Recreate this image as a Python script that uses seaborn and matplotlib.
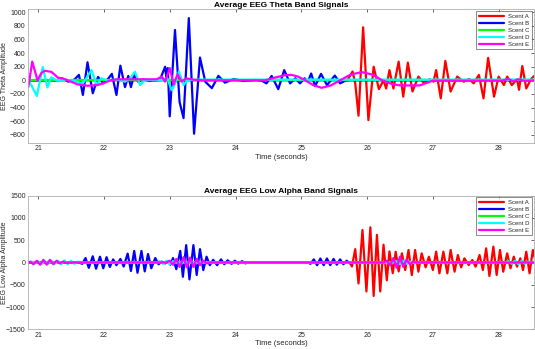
import numpy as np
import pandas as pd
import matplotlib
matplotlib.use("Agg")
import matplotlib.pyplot as plt
import seaborn as sns

scents = ["Scent A", "Scent B", "Scent C", "Scent D", "Scent E"]
colors = ["#ff0000", "#0000ff", "#00ff00", "#00ffff", "#ff00ff"]
x_ticks = [21, 22, 23, 24, 25, 26, 27, 28]
theta_yticks = [-800, -600, -400, -200, 0, 200, 400, 600, 800, 1000]
alpha_yticks = [-1500, -1000, -500, 0, 500, 1000, 1500]

# ---------------- Theta band (extrema) ----------------
tA_theta = [20.85, 25.70, 25.78, 25.82, 25.87, 25.94, 26.02, 26.10, 26.18, 26.25,
            26.29, 26.34, 26.40, 26.48, 26.55, 26.62, 26.69, 26.78, 26.86, 26.95,
            27.01, 27.05, 27.12, 27.19, 27.27, 27.37, 27.47, 27.55, 27.62, 27.70,
            27.77, 27.84, 27.93, 28.00, 28.08, 28.13, 28.20, 28.28, 28.31, 28.36,
            28.42, 28.49, 28.54]
vA_theta = [0, 0, 130, -45, -520, 780, -585, 200, -130, 0,
            -120, 150, -120, 275, -240, 260, -165, 55, -35, 15,
            -20, 150, -265, 285, -165, 55, -20, 20, -45, 80,
            -265, 330, -240, 55, -70, 55, -70, 15, -140, 210,
            -120, 15, 65]

tB_theta = [20.85, 21.28, 21.36, 21.46, 21.55, 21.62, 21.68, 21.75, 21.83, 21.91,
            21.99, 22.07, 22.12, 22.19, 22.25, 22.32, 22.37, 22.41, 22.46, 22.52,
            22.60, 22.70, 22.85, 22.93, 22.95, 22.97, 23.00, 23.08, 23.15, 23.21,
            23.29, 23.37, 23.46, 23.54, 23.64, 23.74, 23.84, 23.97, 24.12, 24.30,
            24.40, 24.47, 24.55, 24.65, 24.74, 24.83, 24.91, 24.98, 25.05, 25.10,
            25.15, 25.21, 25.30, 25.39, 25.51, 25.59, 25.67, 25.75, 28.55]
vB_theta = [0, 0, 30, -20, 10, 80, -215, 265, -190, 50,
            -45, 30, 95, -215, 215, -100, 65, -100, 80, -20,
            15, -10, 5, 200, 20, 180, -530, 740, -320, -555,
            915, -785, 335, -20, -115, 65, -35, 20, -10, 5,
            -5, -45, 65, -130, 150, -45, 30, -45, 30, -20,
            100, -85, 95, -70, 70, -45, -5, 0, 0]

tC_theta = [20.85, 22.00, 23.20, 24.50, 26.00, 27.50, 28.55]
vC_theta = [0, 0, 0, 0, 0, 0, 0]

tD_theta = [20.85, 20.90, 20.98, 21.07, 21.14, 21.20, 21.28, 21.40, 21.55, 21.68,
            21.81, 21.89, 21.96, 22.05, 22.20, 22.32, 22.40, 22.47, 22.55, 22.63,
            22.75, 22.90, 22.96, 23.03, 23.09, 23.14, 23.21, 23.27, 23.40, 28.55]
vD_theta = [0, -80, -230, 195, -105, 45, 0, 10, -10, -45,
            150, -70, 30, 0, 10, -20, 30, 125, -70, 10,
            0, 10, 40, -145, -30, 130, -70, 0, 10, 10]

tE_theta = [20.85, 20.91, 20.99, 21.05, 21.10, 21.20, 21.30, 21.38, 21.45, 21.60,
            21.75, 21.90, 22.00, 22.10, 22.20, 22.80, 22.88, 22.93, 23.00, 23.06,
            23.12, 23.18, 23.25, 23.35, 23.50, 24.45, 24.60, 24.75, 24.85, 24.95,
            25.06, 25.18, 25.31, 25.45, 25.59, 25.75, 25.92, 26.08, 26.23, 26.38,
            26.50, 26.80, 26.90, 27.00, 27.20, 28.05, 28.15, 28.22, 28.30, 28.40,
            28.55]
vE_theta = [-100, 275, 0, 110, 140, 125, 40, 25, 0, -60,
            -80, -70, -40, 0, 15, 15, 55, -20, 180, -60,
            90, -20, 30, 10, 0, 0, 40, 75, 80, 55,
            0, -70, -110, -75, 0, 85, 120, 85, 0, -55,
            -75, -75, -40, -5, -5, -5, 20, -15, 15, -10,
            0]

# ---------------- Low alpha band (extrema) ----------------
tA_alpha = [20.85, 25.74, 25.77, 25.82, 25.87, 25.93, 25.99, 26.05, 26.10, 26.15,
            26.20, 26.25, 26.30, 26.34, 26.39, 26.435, 26.48, 26.53, 26.58, 26.63,
            26.68, 26.73, 26.78, 26.83, 26.89, 26.94, 27.00, 27.05, 27.10, 27.16,
            27.22, 27.27, 27.33, 27.38, 27.43, 27.48, 27.545, 27.60, 27.65, 27.71,
            27.76, 27.81, 27.86, 27.92, 27.97, 28.02, 28.07, 28.13, 28.18, 28.23,
            28.28, 28.33, 28.37, 28.42, 28.47, 28.52, 28.55]
vA_alpha = [0, 0, -90, 300, -470, 730, -650, 790, -750, 620,
            -650, 400, -400, 250, -240, 240, -200, 206, -169, 281,
            -281, 281, -206, 206, -109, 131, -169, 243, -243, 243,
            -243, 281, -206, 168, -109, 94, -56, 56, -94, 168,
            -169, 318, -303, 356, -281, 281, -206, 206, -131, 131,
            -94, 94, -169, 243, -243, 281, 100]

tB_alpha = [20.85, 21.62, 21.67, 21.72, 21.77, 21.83, 21.88, 21.94, 21.99, 22.04,
            22.09, 22.14, 22.19, 22.25, 22.30, 22.36, 22.41, 22.46, 22.51, 22.57,
            22.62, 22.67, 22.72, 22.78, 22.83, 22.88, 22.93, 22.98, 23.01, 23.05,
            23.10, 23.16, 23.20, 23.25, 23.30, 23.36, 23.41, 23.46, 23.51, 23.56,
            23.61, 23.66, 23.72, 23.78, 23.83, 23.88, 23.94, 23.99, 24.04, 24.10,
            24.15, 24.20, 24.25, 25.10, 25.14, 25.19, 25.24, 25.29, 25.34, 25.39,
            25.44, 25.49, 25.54, 25.59, 25.64, 25.69, 25.74, 25.78, 28.55]
vB_alpha = [0, 0, -30, 100, -120, 140, -140, 130, -130, 120,
            -100, 70, -60, 80, -90, 200, -190, 260, -230, 260,
            -200, 190, -130, 100, -40, 20, -20, 30, -50, 100,
            -150, 260, -320, 390, -380, 390, -280, 300, -170, 130,
            -60, 60, -60, 70, -40, 50, -30, 40, -25, 30,
            -20, 10, 0, 0, -30, 70, -60, 90, -60, 90,
            -60, 80, -50, 70, -40, 40, -20, 0, 0]

tC_alpha = [20.85, 20.95, 21.05, 21.15, 21.25, 21.35, 21.50, 28.55]
vC_alpha = [0, 15, -15, 15, -15, 10, 0, 0]

tD_alpha = [20.85, 20.90, 20.95, 21.00, 21.05, 21.10, 21.15, 21.20, 21.25, 21.30,
            21.35, 21.40, 21.45, 21.50, 21.55, 21.60, 21.70, 22.80, 22.85, 22.90,
            22.95, 23.00, 23.05, 23.10, 26.40, 26.45, 26.50, 26.55, 26.60, 26.65,
            26.70, 28.10, 28.15, 28.20, 28.25, 28.30, 28.35, 28.40, 28.45, 28.50,
            28.55]
vD_alpha = [0, 20, -20, 30, -30, 30, -30, 40, -30, 40,
            -40, 50, -40, 40, -30, 20, 0, 0, 30, -30,
            40, -40, 30, 0, 0, 30, -40, 40, -30, 20,
            0, 0, 30, -30, 40, -40, 40, -30, 20, 10,
            0]

tE_alpha = [20.85, 20.88, 20.93, 20.98, 21.03, 21.08, 21.13, 21.18, 21.23, 21.28,
            21.33, 21.38, 21.43, 21.50, 22.95, 23.00, 23.05, 23.10, 23.15, 23.21,
            23.26, 23.31, 23.36, 23.41, 23.46, 23.51, 23.56, 23.62, 26.25, 26.30,
            26.35, 26.40, 26.45, 26.50, 26.55, 26.60, 26.65, 26.70, 26.75, 28.55]
vE_alpha = [-20, 20, -40, 40, -50, 60, -50, 60, -40, 40,
            -20, 20, -10, 0, 0, 40, -50, 80, -100, 120,
            -110, 110, -100, 80, -60, 40, -20, 0, 0, 40,
            -60, 100, -120, 130, -100, 70, -40, 20, 0, 0]


def build(pairs):
    frames = []
    for name, (t, v) in zip(scents, pairs):
        assert len(t) == len(v), (name, len(t), len(v))
        frames.append(pd.DataFrame({"Time": t, "Amp": v, "Scent": name}))
    return pd.concat(frames, ignore_index=True)


theta_df = build([(tA_theta, vA_theta), (tB_theta, vB_theta), (tC_theta, vC_theta),
                  (tD_theta, vD_theta), (tE_theta, vE_theta)])
alpha_df = build([(tA_alpha, vA_alpha), (tB_alpha, vB_alpha), (tC_alpha, vC_alpha),
                  (tD_alpha, vD_alpha), (tE_alpha, vE_alpha)])

sns.set_theme(style="white")
plt.rcParams["font.family"] = ["Liberation Sans", "DejaVu Sans"]

fig = plt.figure(figsize=(5.35, 3.49), dpi=100)
ax1 = fig.add_axes([0.0529, 0.5911, 0.9443, 0.3817])
ax2 = fig.add_axes([0.0529, 0.0564, 0.9443, 0.3829])

txt = "#262626"


def panel(ax, df, title, ylabel, ylim, yticks):
    for name, col in zip(scents, colors):
        sns.lineplot(data=df[df["Scent"] == name], x="Time", y="Amp", color=col,
                     linewidth=1.6, label=name, ax=ax, estimator=None, sort=False)
    ax.set_xlim(20.85, 28.53)
    ax.set_ylim(*ylim)
    ax.set_xticks(x_ticks)
    ax.set_yticks(yticks)
    ax.tick_params(direction="in", length=2.5, width=0.5, top=True, right=True,
                   labelsize=5, pad=2, colors=txt)
    for sp in ax.spines.values():
        sp.set_color("#b0b0b0")
        sp.set_linewidth(0.6)
    ax.set_title(title, fontsize=6, fontweight="bold", pad=2, color="black")
    ax.set_xlabel("Time (seconds)", fontsize=5.5, labelpad=1, color=txt)
    ax.set_ylabel(ylabel, fontsize=5, color=txt)
    ax.yaxis.set_label_coords(-0.04, 0.5)
    leg = ax.legend(loc="upper right", fontsize=4.3, frameon=True, fancybox=False,
                    handlelength=4.3, borderpad=0.4, labelspacing=0.3,
                    handletextpad=0.6, borderaxespad=0.3)
    leg.get_frame().set_edgecolor("#333333")
    leg.get_frame().set_linewidth(0.5)
    for line in leg.get_lines():
        line.set_linewidth(1.6)


panel(ax1, theta_df, "Average EEG Theta Band Signals", "EEG Theta Amplitude",
      (-917, 1041), theta_yticks)
panel(ax2, alpha_df, "Average EEG Low Alpha Band Signals", "EEG Low Alpha Amplitude",
      (-1500, 1500), alpha_yticks)

fig.savefig("out.png", dpi=100)
